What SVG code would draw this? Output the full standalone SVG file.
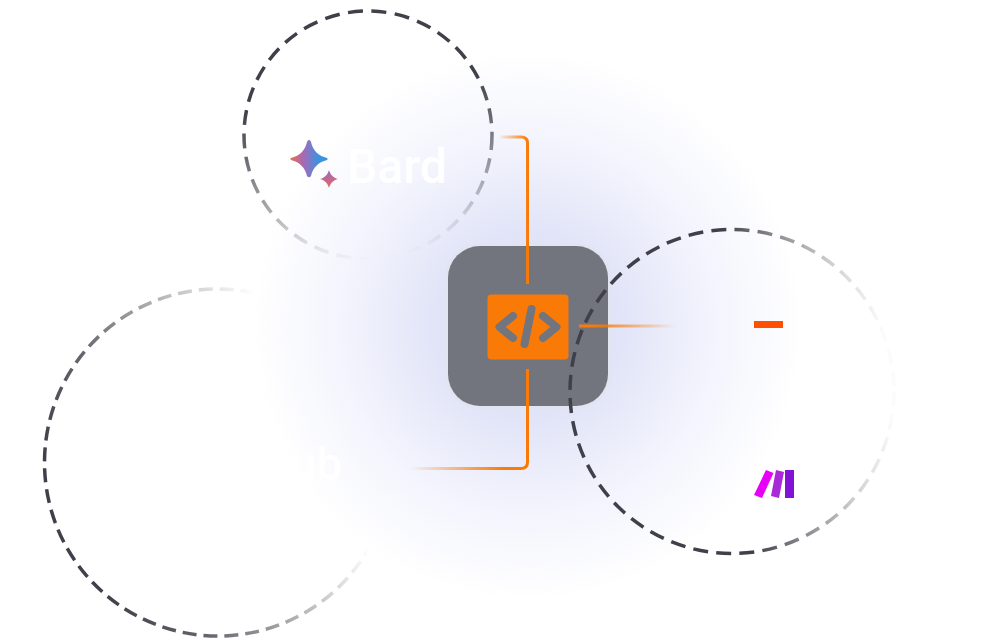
<svg xmlns="http://www.w3.org/2000/svg" width="996" height="642" viewBox="0 0 996 642">
<defs>
<radialGradient id="glow" gradientUnits="userSpaceOnUse" cx="528" cy="326" r="275">
<stop offset="0" stop-color="#d9ddf6"/><stop offset=".35" stop-color="#e2e5f8"/><stop offset=".7" stop-color="#f4f5fd"/><stop offset="1" stop-color="#fff"/>
</radialGradient>
<linearGradient id="gTop" gradientUnits="userSpaceOnUse" x1="361" y1="93" x2="388" y2="257">
<stop offset="0" stop-color="#3f4049"/><stop offset=".3" stop-color="#3f4049" stop-opacity=".75"/><stop offset=".6" stop-color="#3f4049" stop-opacity=".45"/><stop offset=".85" stop-color="#3f4049" stop-opacity=".15"/><stop offset="1" stop-color="#3f4049" stop-opacity="0"/>
</linearGradient>
<linearGradient id="gLeft" gradientUnits="userSpaceOnUse" x1="74" y1="527" x2="312" y2="420">
<stop offset="0" stop-color="#3f4049"/><stop offset=".3" stop-color="#3f4049" stop-opacity=".8"/><stop offset=".6" stop-color="#3f4049" stop-opacity=".45"/><stop offset="1" stop-color="#3f4049" stop-opacity="0"/>
</linearGradient>
<linearGradient id="gRight" gradientUnits="userSpaceOnUse" x1="740" y1="395" x2="888" y2="380">
<stop offset="0" stop-color="#3f4049"/><stop offset=".2" stop-color="#3f4049" stop-opacity=".75"/><stop offset=".5" stop-color="#3f4049" stop-opacity=".45"/><stop offset=".7" stop-color="#3f4049" stop-opacity=".25"/><stop offset="1" stop-color="#3f4049" stop-opacity=".02"/>
</linearGradient>
<linearGradient id="cTop" gradientUnits="userSpaceOnUse" x1="498" y1="0" x2="528" y2="0">
<stop offset="0" stop-color="#f97a07" stop-opacity="0"/><stop offset="1" stop-color="#f97a07"/>
</linearGradient>
<linearGradient id="cRight" gradientUnits="userSpaceOnUse" x1="579" y1="0" x2="676" y2="0">
<stop offset=".1" stop-color="#f97a07"/><stop offset="1" stop-color="#f97a07" stop-opacity="0"/>
</linearGradient>
<linearGradient id="cBottom" gradientUnits="userSpaceOnUse" x1="410" y1="0" x2="528" y2="0">
<stop offset="0" stop-color="#f97a07" stop-opacity="0"/><stop offset=".8" stop-color="#f97a07"/>
</linearGradient>
<linearGradient id="starBig" x1="0" y1=".5" x2="1" y2=".5">
<stop offset="0" stop-color="#e8704f"/><stop offset=".35" stop-color="#a868b4"/><stop offset=".75" stop-color="#3d92e0"/><stop offset="1" stop-color="#3a90e2"/>
</linearGradient>
<linearGradient id="starSmall" x1=".4" y1="0" x2=".6" y2="1">
<stop offset="0" stop-color="#9a67c4"/><stop offset="1" stop-color="#e8685a"/>
</linearGradient>
</defs>
<style>
.ring{fill:none;stroke-width:3.5}
.conn{fill:none;stroke-width:3}
.code{fill:none;stroke:#72757e;stroke-width:8;stroke-linecap:round;stroke-linejoin:round}
.label{fill:#fff;font-family:"Roboto","Liberation Sans",sans-serif}
</style>
<rect width="996" height="642" fill="#fff"/>
<circle cx="528" cy="326" r="275" fill="url(#glow)"/>
<g id="tile">
<rect x="445" y="243" width="166" height="166" rx="35" fill="#e2e4f2"/>
<rect x="448" y="246" width="160" height="160" rx="32" fill="#72757e"/>
<rect x="487.500" y="294.500" width="81" height="65" rx="4" fill="#f97a07"/>
<path class="code" d="M513 316L499.500 327L513 338M543 316L556.500 327L543 338M531.500 309L524.500 344"/>
</g>
<g id="bard-node">
<circle cx="368" cy="135" r="124" class="ring" stroke="url(#gTop)" stroke-dasharray="15 8.500"/>
<path d="M309 140Q310.500 140 311 142C313 151 319 156 327 158Q328.500 159 327 160C319 162 313 167 311 176Q309 178.500 307 176C305 167 299 162 291 160Q289.500 159 291 158C299 156 305 151 307 142Q307.500 140 309 140Z" fill="url(#starBig)"/>
<path d="M329 170C330.500 175 333 177.500 338 179C333 180.500 330.500 183 329 188C327.500 183 325 180.500 320 179C325 177.500 327.500 175 329 170Z" fill="url(#starSmall)"/>
<text class="label" x="347" y="183" font-size="48" font-weight="500">Bard</text>
</g>
<g id="github-node">
<circle cx="218" cy="462.500" r="173.500" class="ring" stroke="url(#gLeft)" stroke-dasharray="14 7"/>
<text class="label" x="342" y="480" font-size="46" font-weight="500" text-anchor="end">GitHub</text>
</g>
<g id="tools-node">
<circle cx="732" cy="391.500" r="162" class="ring" stroke="url(#gRight)" stroke-dasharray="15 8.200"/>
<rect x="754" y="321" width="29" height="7" fill="#ff4f00"/>
<path d="M766 470L773.500 473L762 498L754 495Z" fill="#e600f5"/>
<path d="M776 470L784 472L779 498L771 496Z" fill="#a82ad8"/>
<path d="M785 470H794V498H785Z" fill="#8311d6"/>
</g>
<g id="connectors">
<path class="conn" stroke="url(#cTop)" d="M500 137H521Q527.500 137 527.500 143V284"/>
<path class="conn" stroke="url(#cRight)" d="M579 326H676"/>
<path class="conn" stroke="url(#cBottom)" d="M410 468.500H521Q527.500 468.500 527.500 462V369"/>
</g>
</svg>
